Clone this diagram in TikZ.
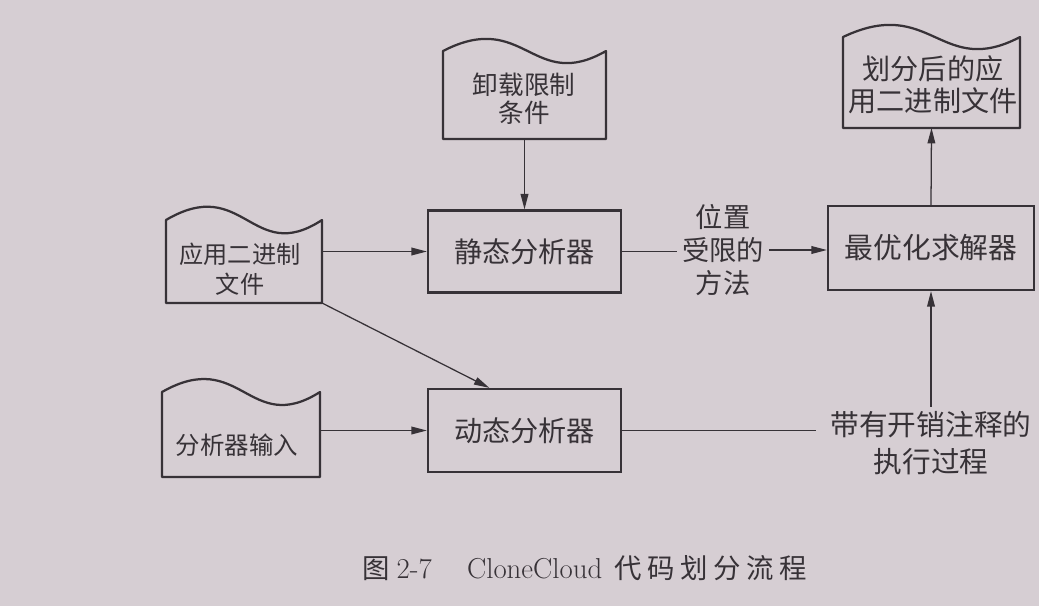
\documentclass[tikz,border=0pt]{standalone}
\usepackage{fontspec}
\newfontfamily\cjk{Noto Sans CJK SC}
\usetikzlibrary{arrows.meta,calc}
\definecolor{ink}{RGB}{55,50,55}
\definecolor{paper}{RGB}{214,206,211}
\newcommand{\fs}[2]{\fontsize{#1pt}{#2pt}\selectfont}
\tikzset{
  box/.style={draw=ink, line width=1.6pt, text=ink, inner sep=0pt},
  docbody/.style={draw=none, inner sep=0pt, outer sep=0pt},
  outline/.style={draw=ink, line width=1.6pt, line join=round},
  txt/.style={text=ink, align=center, inner sep=0pt},
  conn/.style={draw=ink, line width=0.9pt},
  arr/.style={conn, -{Triangle[length=11pt,width=5.5pt]}},
}
% name, left, right, corner top, bottom, wave depth
\newcommand{\docnode}[6]{%
  \node[docbody, minimum width={(#3-#2)*0.025cm}, minimum height={(#5-#4)*0.025cm}]
    (#1) at ({(#2+#3)/2},{(#4+#5)/2}) {};
  \draw[outline] (#1.north west) -- (#1.south west) -- (#1.south east) -- (#1.north east)
    .. controls +({-(#3-#2)*0.45},{#6}) and +({(#3-#2)*0.5},{-#6}) .. (#1.north west) -- cycle;
}
\begin{document}
\begin{tikzpicture}[x=0.025cm,y=-0.025cm]
\useasboundingbox (0,0) rectangle (1039,606);
\fill[paper] (0,0) rectangle (1039,606);

% document shapes
\docnode{unload}{443}{606}{51}{139}{42}
\node[txt, font=\cjk\fs{18.2}{20}] (unloadT) at (524,99) {卸载限制\\条件};

\docnode{app}{166}{322}{220}{303}{46}
\node[txt, font=\cjk\fs{17.2}{21.3}] (appT) at (240,269) {应用二进制\\文件};

\docnode{result}{843}{1020}{37}{128}{42}
\node[txt, font=\cjk\fs{20}{23}] (resultT) at (933,85) {划分后的应\\用二进制文件};

\docnode{input}{162}{320}{392}{477}{45}
\node[txt, font=\cjk\fs{17.4}{21}] (inputT) at (237,445) {分析器输入};

% process boxes
\node[box, minimum width=4.825cm, minimum height=2.05cm, font=\cjk\fs{20}{24}] (static) at (524.5,251.5) {静态分析器};
\node[box, minimum width=4.825cm, minimum height=2.075cm, font=\cjk\fs{20}{24}] (dynamic) at (524.5,430.5) {动态分析器};
\node[box, minimum width=5.15cm, minimum height=2.1cm, font=\cjk\fs{20.5}{24}] (solver) at (931,248) {最优化求解器};

% labels
\node[txt, inner xsep=3.5pt, font=\cjk\fs{19.4}{23.5}] (place) at (723,250) {位置\\受限的\\方法};
\node[txt, inner xsep=10pt, inner ysep=3pt, font=\cjk\fs{20.4}{26.3}] (trace) at (931,443) {带有开销注释的\\执行过程};

% connectors
\draw[arr] (unload.south) -- (static.north);
\draw[arr] (app.east |- static.west) -- (static.west);
\draw[arr] (app.south east) -- ($(dynamic.north west)!0.32!(dynamic.north east)$);
\draw[arr] (input.east |- dynamic.west) -- (dynamic.west);
\draw[conn] (static.east) -- (static.east -| place.west);
\draw[arr] (place.east) -- (place.east -| solver.west);
\draw[conn] (dynamic.east) -- (dynamic.east -| trace.west);
\draw[arr] (trace.north) -- (solver.south);
\draw[arr] (solver.north) -- (result.south);

% caption
\node[text=ink, anchor=west, inner sep=0pt, font=\fs{20.5}{24}] (caption) at (362,568)
  {{\cjk\fs{19.5}{24}图}\kern5pt 2-7\kern25pt CloneCloud\kern8.5pt{\cjk\fs{19.5}{24}代\kern4pt 码\kern4pt 划\kern4pt 分\kern4pt 流\kern4pt 程}};
\end{tikzpicture}
\end{document}
